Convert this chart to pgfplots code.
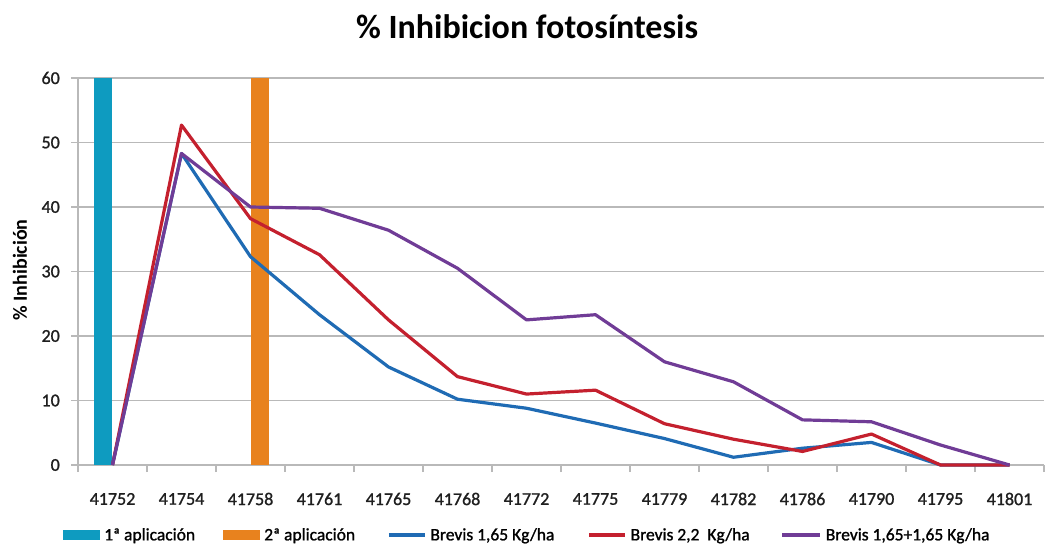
\documentclass[border=0pt]{standalone}
\usepackage{pgfplots}
\pgfplotsset{compat=1.18}
\usepackage{fontspec}
\setmainfont{Carlito}
\newfontfamily\semib{Carlito}[FakeBold=1.2]
\definecolor{cteal}{RGB}{14,155,192}
\definecolor{corange}{RGB}{232,130,30}
\definecolor{cblue}{RGB}{31,107,180}
\definecolor{cred}{RGB}{196,32,46}
\definecolor{cpurple}{RGB}{112,60,150}
\definecolor{cgrid}{RGB}{185,185,185}
\begin{document}
\begin{tikzpicture}
\begin{axis}[
  scale only axis, width=966bp, height=387bp,
  xmin=-0.5, xmax=13.5, ymin=0, ymax=60,
  axis lines*=left,
  axis line style={cgrid, line width=1.3bp},
  clip=false,
  xtick={0,...,13},
  xticklabels={41752,41754,41758,41761,41765,41768,41772,41775,41779,41782,41786,41790,41795,41801},
  minor xtick={-0.5,0.5,...,13.5},
  major x tick style={draw=none},
  minor x tick style={cgrid, line width=1.3bp},
  minor tick length=7bp,
  ytick={0,10,...,60},
  y tick style={cgrid, line width=1.3bp},
  major tick length=7bp,
  tick align=outside,
  ymajorgrids,
  grid style={cgrid, line width=1.3bp},
  /pgf/number format/assume math mode=true,
  xticklabel style={anchor=center, inner sep=0pt, yshift=-27bp, font=\semib\fontsize{18bp}{20bp}\selectfont, text=black!88},
  yticklabel style={anchor=east, inner sep=0pt, xshift=-11bp, font=\semib\fontsize{18bp}{20bp}\selectfont, text=black!88},
  title={\% Inhibicion fotosíntesis},
  title style={at={(0.4648,1.116)}, anchor=center, font=\bfseries\fontsize{34bp}{38bp}\selectfont},
  ylabel={\% Inhibición},
  ylabel style={at={(axis description cs:-0.060,0.504)}, anchor=center, rotate=0, font=\bfseries\fontsize{20bp}{22bp}\selectfont},
  legend columns=5,
  legend style={at={(-0.0155,-0.181)}, anchor=west, draw=none, fill=none,
    font=\semib\fontsize{17.5bp}{19bp}\selectfont, inner sep=0pt,
    nodes={inner xsep=0bp, inner ysep=1bp},
    /tikz/every odd column/.append style={column sep=4bp}},
]
\addplot[ybar, bar width=0.275, fill=cteal, draw=none,
  legend image code/.code={\fill[cteal] (0bp,-5bp) rectangle (37bp,5bp);}]
  coordinates {(-0.1375,60)};
\addlegendentry{\makebox[119bp][l]{1ª aplicación}}
\addplot[ybar, bar width=0.275, fill=corange, draw=none,
  legend image code/.code={\fill[corange] (0bp,-5bp) rectangle (37bp,5bp);}]
  coordinates {(2.1375,60)};
\addlegendentry{\makebox[123bp][l]{2ª aplicación}}
\addplot[cblue, line width=3.2bp, line join=round,
  legend image code/.code={\draw[cblue, line width=3.2bp] (0bp,0bp) -- (36bp,0bp);}]
  coordinates {(0,0) (1,48.3) (2,32.3) (3,23.3) (4,15.2) (5,10.2) (6,8.8) (7,6.5) (8,4.1) (9,1.2) (10,2.6) (11,3.5) (12,0) (13,0)};
\addlegendentry{\makebox[157bp][l]{Brevis 1,65 Kg/ha}}
\addplot[cred, line width=3.2bp, line join=round,
  legend image code/.code={\draw[cred, line width=3.2bp] (0bp,0bp) -- (36bp,0bp);}]
  coordinates {(0,0) (1,52.7) (2,38.2) (3,32.6) (4,22.5) (5,13.7) (6,11.0) (7,11.6) (8,6.4) (9,4.0) (10,2.1) (11,4.8) (12,0) (13,0)};
\addlegendentry{\makebox[150bp][l]{Brevis 2,2\ \ Kg/ha}}
\addplot[cpurple, line width=3.2bp, line join=round,
  legend image code/.code={\draw[cpurple, line width=3.2bp] (0bp,0bp) -- (38bp,0bp);}]
  coordinates {(0,0) (1,48.3) (2,40.0) (3,39.8) (4,36.4) (5,30.5) (6,22.5) (7,23.3) (8,16.0) (9,12.9) (10,7.0) (11,6.7) (12,3.1) (13,0)};
\addlegendentry{Brevis 1,65+1,65 Kg/ha}
\end{axis}
\pgfresetboundingbox
\path ([shift={(-78bp,-89bp)}]current axis.south west) rectangle ([shift={(7bp,78bp)}]current axis.north east);
\end{tikzpicture}
\end{document}
